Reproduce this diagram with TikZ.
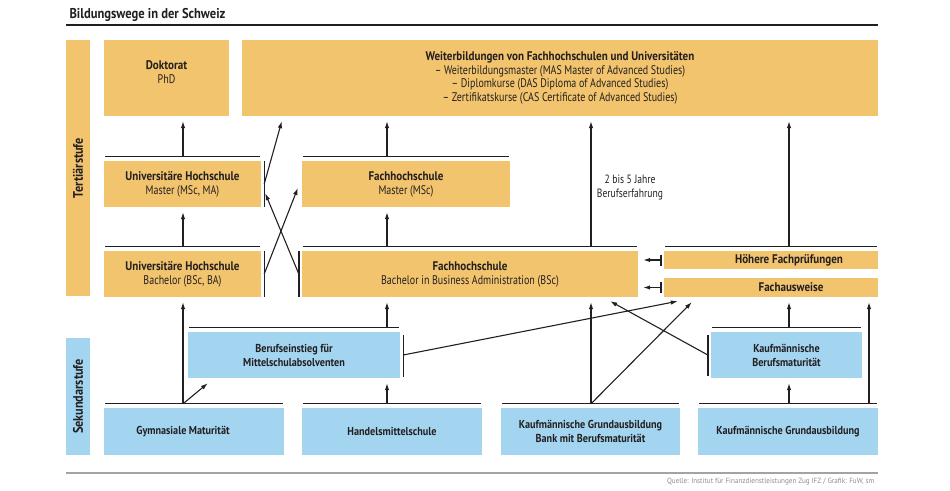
\documentclass[tikz,border=0pt]{standalone}
\usepackage{fontspec}
\setmainfont{PT Sans}[UprightFeatures={FakeStretch=0.80}, BoldFeatures={FakeStretch=0.884}]
\newfontfamily\srcfont{PT Sans}[FakeStretch=0.95]
\usetikzlibrary{arrows.meta}

\definecolor{ink}{HTML}{231F20}
\definecolor{tertfill}{HTML}{F2C46E}
\definecolor{sekfill}{HTML}{A3D5F1}
\definecolor{srcgray}{HTML}{8C8C8C}

\begin{document}
\begin{tikzpicture}[x=1pt, y=-1pt, line join=round,
        tert/.style={fill=tertfill, inner sep=0pt, align=center, text=ink},
        sek/.style={fill=sekfill, inner sep=0pt, align=center, text=ink, font=\fontsize{11.5}{14}\selectfont\bfseries},
        arr/.style={draw=ink, line width=1.1pt, shorten >=5pt, -{Latex[length=7pt, width=4.5pt]}},
        bar/.style={draw=ink, line width=1.4pt},
        font=\fontsize{12.5}{14}\selectfont]

                \useasboundingbox (0,0) rectangle (950,490);

                \node[anchor=base west, text=ink, font=\fontsize{14.2}{17}\selectfont\bfseries] (title) at (66,18) {Bildungswege in der Schweiz};
                \draw[ink, line width=1.2pt] (66,25) -- (878,25);

                \node[tert, rotate=90, minimum width=256pt, minimum height=24pt, font=\fontsize{13.8}{14}\selectfont\bfseries] (tertiaer) at (78,168) {Tertiärstufe};
                \node[sek, rotate=90, minimum width=117pt, minimum height=24pt, font=\fontsize{13.8}{14}\selectfont\bfseries] (sekundar) at (78,396.5) {Sekundarstufe};

                \node[tert, minimum width=125pt, minimum height=76pt, label={[align=center, text=ink, yshift=6pt]center:{\textbf{Doktorat}\\PhD}}] (dok) at (166.5,78) {};
                \node[tert, minimum width=636pt, minimum height=76pt, font=\fontsize{12.5}{13.7}\selectfont] (wb) at (560,78) {\textbf{Weiterbildungen von Fachhochschulen und Universitäten}\\– Weiterbildungsmaster (MAS Master of Advanced Studies)\\– Diplomkurse (DAS Diploma of Advanced Studies)\\– Zertifikatskurse (CAS Certificate of Advanced Studies)};

                \node[tert, minimum width=157pt, minimum height=46pt] (uniM) at (182.5,184) {\textbf{Universitäre Hochschule}\\Master (MSc, MA)};
                \node[tert, minimum width=157pt, minimum height=46pt] (uniB) at (182.5,274) {\textbf{Universitäre Hochschule}\\Bachelor (BSc, BA)};
                \node[tert, minimum width=208pt, minimum height=46pt] (fhM) at (406,184) {\textbf{Fachhochschule}\\Master (MSc)};
                \node[tert, minimum width=336pt, minimum height=46pt] (fhB) at (470,274) {\textbf{Fachhochschule}\\Bachelor in Business Administration (BSc)};
                \node[tert, minimum width=214pt, minimum height=18pt, label={[text=ink, font=\fontsize{12.5}{14}\selectfont\bfseries, xshift=18pt]center:Höhere Fachprüfungen}] (hfp) at (771,260) {};
                \node[tert, minimum width=214pt, minimum height=19pt, label={[text=ink, font=\fontsize{12.5}{14}\selectfont\bfseries, xshift=20pt]center:Fachausweise}] (fa) at (771,287.5) {};

                \node[sek, minimum width=212pt, minimum height=46pt] (bein) at (294,355) {Berufseinstieg für\\Mittelschulabsolventen};
                \node[sek, minimum width=151pt, minimum height=46pt] (kbm) at (786.5,355) {Kaufmännische\\Berufsmaturität};
                \node[sek, minimum width=180pt, minimum height=47pt, label={[text=ink, font=\fontsize{11.5}{14}\selectfont\bfseries, xshift=-11pt]center:Gymnasiale Maturität}] (gym) at (194,431.5) {};
                \node[sek, minimum width=180pt, minimum height=47pt] (hms) at (392,431.5) {Handelsmittelschule};
                \node[sek, minimum width=179pt, minimum height=47pt] (kgb) at (590.5,431.5) {Kaufmännische Grundausbildung\\Bank mit Berufsmaturität};
                \node[sek, minimum width=180pt, minimum height=47pt] (kg) at (788,431.5) {Kaufmännische Grundausbildung};

                \node[text=ink, align=center, font=\fontsize{12}{14}\selectfont] (exp) at (630,187) {2 bis 5 Jahre\\Berufserfahrung};

                \coordinate (colA) at (183,0);
                \coordinate (colB) at (387,0);
                \coordinate (colC) at (591,0);
                \coordinate (colD) at (789,0);
                \coordinate (colE) at (869,0);

                \foreach \n in {uniM,uniB,fhM,fhB,hfp,bein,kbm,gym,hms,kgb,kg}
                    \draw[bar, line width=1.2pt] ([xshift=1.5pt, yshift=4pt]\n.north west) coordinate (\n-r) -- ([xshift=-1.5pt, yshift=4pt]\n.north east);

                \draw[bar] ([xshift=3pt]uniM.north east) -- ([xshift=3pt]uniM.south east);
                \draw[bar] ([xshift=3pt]uniB.north east) -- ([xshift=3pt]uniB.south east);
                \draw[bar] ([xshift=-3pt]fhB.north west) -- ([xshift=-3pt]fhB.south west);
                \draw[bar] ([xshift=3pt, yshift=-3pt]bein.north east) -- ([xshift=3pt, yshift=1pt]bein.south east);
                \draw[bar] ([xshift=-3pt, yshift=-3pt]kbm.north west) -- ([xshift=-3pt, yshift=2pt]kbm.south west);
                \draw[bar] ([xshift=-3pt, yshift=5.5pt]hfp.west) -- ([xshift=-3pt, yshift=-5.5pt]hfp.west);
                \draw[bar] ([xshift=-3pt, yshift=5.5pt]fa.west) -- ([xshift=-3pt, yshift=-5.5pt]fa.west);

                \draw[arr] (uniM-r -| colA) -- (dok.south -| colA);
                \draw[arr] (uniB-r -| colA) -- (uniM.south -| colA);
                \draw[arr] (gym-r -| colA) -- (uniB.south -| colA);
                \draw[arr, shorten >=0pt] (gym-r -| colA) -- ([shift={(20pt,-5pt)}]bein.south west);

                \draw[arr] (fhM-r -| colB) -- (wb.south -| colB);
                \draw[arr] (fhB-r -| colB) -- (fhM.south -| colB);
                \draw[arr] (bein-r -| colB) -- (fhB.south -| colB);
                \draw[arr] (hms-r -| colB) -- (bein.south -| colB);

                \draw[arr] (fhB-r -| colC) -- (wb.south -| colC);
                \draw[arr] (kgb-r -| colC) -- (fhB.south -| colC);
                \draw[arr, shorten >=0pt] (kgb-r -| colC) -- ([shift={(28pt,-5pt)}]fa.south west);

                \draw[arr] (hfp-r -| colD) -- (wb.south -| colD);
                \draw[arr] (kbm-r -| colD) -- (fa.south -| colD);
                \draw[arr] (kg-r -| colD) -- (kbm.south -| colD);
                \draw[arr] (kg-r -| colE) -- (fa.south -| colE);

                \draw[arr, shorten >=0pt] ([xshift=3pt]uniM.east) -- ([shift={(40pt,-5pt)}]wb.south west);
                \draw[arr, shorten >=0pt] ([xshift=3pt]uniB.east) -- ([shift={(-4pt,-4pt)}]fhM.west);
                \draw[arr, shorten >=0pt] ([xshift=-3pt]fhB.west) -- ([shift={(4pt,14pt)}]uniM.south east);
                \draw[arr, shorten >=0pt] ([xshift=3pt]bein.east) -- ([shift={(14pt,-4pt)}]fa.south west);
                \draw[arr, shorten >=0pt] ([xshift=-3pt]kbm.west) -- ([shift={(-28pt,-4pt)}]fhB.south east);
                \draw[arr] ([xshift=-3pt]hfp.west) -- (hfp.west -| fhB.east);
                \draw[arr] ([xshift=-3pt]fa.west) -- (fa.west -| fhB.east);

                \draw[srcgray!80, line width=1.5pt] (66,473) -- (878,473);
                \node[anchor=east, text=srcgray, font=\srcfont\fontsize{7.5}{9}\selectfont] (src) at (878,482) {Quelle: Institut für Finanzdienstleistungen Zug IFZ / Grafik: FuW, sm};

            \end{tikzpicture}
\end{document}
